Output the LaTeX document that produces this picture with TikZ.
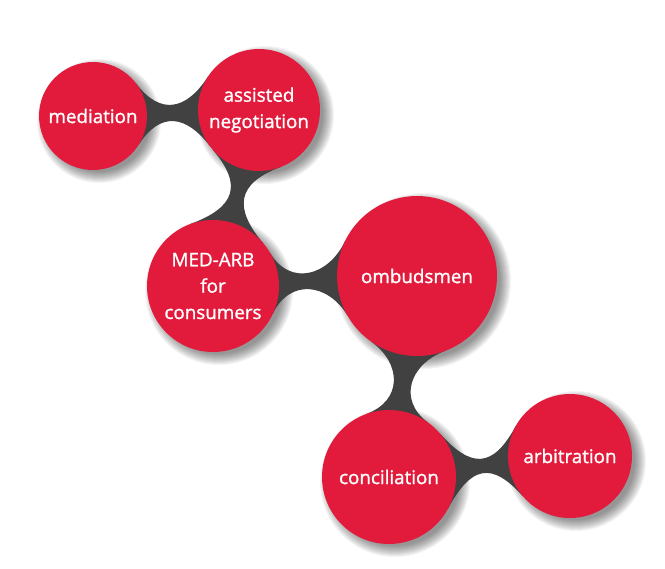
\documentclass[tikz,border=0pt]{standalone}
\usepackage{fontspec}
\setmainfont{Open Sans}
\newfontfamily\bubblefont{Open Sans}[FakeBold=1.3]
\usepackage{xcolor}
\usepackage{tikz}
\usetikzlibrary{calc}

\definecolor{bubblered}{RGB}{226,27,60}
\definecolor{linkgray}{RGB}{65,65,65}

\pgfdeclarelayer{shadow}
\pgfdeclarelayer{links}
\pgfsetlayers{shadow,links,main}

\tikzset{
	bubble/.style={circle, fill=bubblered, text=white, inner sep=0pt, outer sep=0pt,
		align=center, font=\bubblefont\fontsize{10.7}{15}\selectfont}
}

\begin{document}
\begin{tikzpicture}[x=0.02cm, y=0.02cm]

\useasboundingbox (0,0) rectangle (665,-568);

% ------------------------------------------------------

\def \bridge #1#2#3#4{

	\fill[linkgray] let \p1=($(#2)-(#1)$), \n1={atan2(\y1,\x1)},
		\n2={\n1+#3}, \n3={\n1+180-#3}, \n4={\n1+180+#3}, \n5={\n1-#3} in
		(#1.\n2) .. controls +(\n2-90:#4) and +(\n3+90:#4) .. (#2.\n3)
		-- (#2.\n4) .. controls +(\n4-90:#4) and +(\n5+90:#4) .. (#1.\n5) -- cycle;

}

% ------------------------------------------------------

\node[bubble, minimum size=2.16cm] (med) at (93,-116) {mediation};

\node[bubble, minimum size=2.44cm] (asn) at (259,-110) {assisted\\negotiation};

\node[bubble, minimum size=2.64cm] (mab) at (213,-286) {MED-ARB\\for\\consumers};

\node[bubble, minimum size=3.2cm] (omb) at (417,-276) {ombudsmen};

\node[bubble, minimum size=2.68cm] (con) at (389,-477) {conciliation};

\node[bubble, minimum size=2.48cm] (arb) at (570,-456) {arbitration};

% ------------------------------------------------------

\begin{pgfonlayer}{links}

\bridge{med}{asn}{35}{40}

\bridge{asn}{mab}{35}{47}

\bridge{mab}{omb}{28}{39}

\bridge{omb}{con}{28}{38.5}

\bridge{con}{arb}{35}{48}

\end{pgfonlayer}

% ------------------------------------------------------

\begin{pgfonlayer}{shadow}

\foreach \n/\r in {med/54, asn/61, mab/66, omb/80, con/67, arb/62}
	\foreach \s in {0,...,11}
		\fill[black, opacity=0.045] ([shift={(6,-5)}]\n.center) circle[radius=\r-3+\s];

\end{pgfonlayer}

\end{tikzpicture}
\end{document}
